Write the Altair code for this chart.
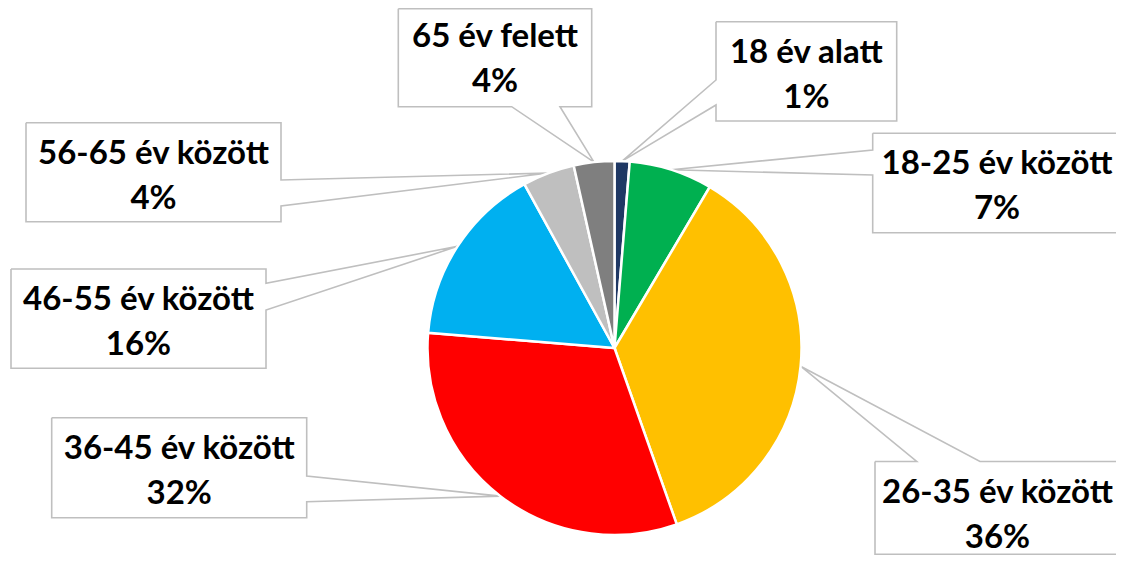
import altair as alt
import numpy as np
import pandas as pd

# ---- data ----
categories = ["18 év alatt", "18-25 év között", "26-35 év között", "36-45 év között",
              "46-55 év között", "56-65 év között", "65 év felett"]
shares = [1.3, 7.2, 36.1, 31.7, 15.7, 4.5, 3.5]
pct_labels = ["1%", "7%", "36%", "32%", "16%", "4%", "4%"]
colors = ["#1F3864", "#00B050", "#FFC000", "#FF0000", "#00B0F0", "#BFBFBF", "#7F7F7F"]

# ---- layout (page pixels) ----
OFF = 8
W, H = 1108, 547
CX, CY, R = 614.5, 348.0, 187.0
TIP_R = 187.0
# box: x0, y0, x1, y1, side of the pointer, base1, base2
boxes = {
    "18 év alatt":     (716.0, 21.7, 896.7, 121.0, "left", 80.0, 105.0),
    "18-25 év között": (872.7, 133.3, 1128.0, 232.7, "left", 150.0, 175.0),
    "26-35 év között": (875.0, 461.5, 1130.0, 554.3, "top", 916.7, 980.0),
    "36-45 év között": (51.7, 417.7, 306.7, 517.7, "right", 476.0, 501.7),
    "46-55 év között": (11.0, 269.0, 266.0, 368.3, "right", 283.3, 310.0),
    "56-65 év között": (26.0, 122.7, 281.0, 221.7, "right", 180.0, 206.0),
    "65 év felett":    (398.3, 8.8, 591.7, 106.7, "bottom", 511.7, 560.0),
}
TOPS = {"65 év felett": 6.0}
TEXT_X = {"18-25 év között": 997.0, "26-35 év között": 997.5}
LINE1, LINE2 = 41.0, 86.0

pie_df = pd.DataFrame({"cat": categories, "share": shares, "idx": range(len(categories))})

# tip points derived from the slice mid-angles
vals = np.array(shares, dtype=float)
cum = np.cumsum(vals)
mid = (cum - vals / 2) / vals.sum() * 2 * np.pi
tips = {c: (CX + TIP_R * np.sin(a), CY - TIP_R * np.cos(a)) for c, a in zip(categories, mid)}

rows = []
for c in categories:
    x0, y0, x1, y1, side, b1, b2 = boxes[c]
    tx, ty = tips[c]
    if side == "top":
        pts = [(x0, y0), (b1, y0), (tx, ty), (b2, y0), (x1, y0), (x1, y1), (x0, y1), (x0, y0)]
    elif side == "right":
        pts = [(x0, y0), (x1, y0), (x1, b1), (tx, ty), (x1, b2), (x1, y1), (x0, y1), (x0, y0)]
    elif side == "bottom":
        pts = [(x0, y0), (x1, y0), (x1, y1), (b2, y1), (tx, ty), (b1, y1), (x0, y1), (x0, y0)]
    else:
        pts = [(x0, y0), (x1, y0), (x1, y1), (x0, y1), (x0, b2), (tx, ty), (x0, b1), (x0, y0)]
    for k, (px, py) in enumerate(pts):
        rows.append({"cat": c, "k": k, "px": px, "py": py})
path_df = pd.DataFrame(rows)

trows = []
for c, p in zip(categories, pct_labels):
    x0, y0, x1, y1, side, b1, b2 = boxes[c]
    top = TOPS.get(c, y0)
    xc = TEXT_X.get(c, (x0 + x1) / 2)
    trows.append({"t": c, "px": xc, "py": top + LINE1})
    trows.append({"t": p, "px": xc, "py": top + LINE2})
text_df = pd.DataFrame(trows)

xs = alt.Scale(domain=[OFF, OFF + W], range=[0, W], nice=False, zero=False)
ys = alt.Scale(domain=[OFF, OFF + H], range=[0, H], nice=False, zero=False)

pie = alt.Chart(pie_df).mark_arc(radius=R, stroke="white", strokeWidth=2.5).encode(
    theta=alt.Theta("share:Q", stack=True),
    order=alt.Order("idx:Q"),
    color=alt.Color("cat:N", scale=alt.Scale(domain=categories, range=colors), legend=None),
    x=alt.value(CX - OFF),
    y=alt.value(CY - OFF),
)

callouts = alt.Chart(path_df).mark_line(color="#BFBFBF", strokeWidth=1.6, strokeJoin="miter").encode(
    x=alt.X("px:Q", scale=xs, axis=None),
    y=alt.Y("py:Q", scale=ys, axis=None),
    detail="cat:N",
    order="k:Q",
)

texts = alt.Chart(text_df).mark_text(
    font="Lato", fontWeight="bold", fontSize=33, color="black",
    align="center", baseline="alphabetic"
).encode(
    x=alt.X("px:Q", scale=xs, axis=None),
    y=alt.Y("py:Q", scale=ys, axis=None),
    text="t:N",
)

chart = alt.layer(callouts, pie, texts).properties(
    width=W, height=H, autosize=alt.AutoSizeParams(type="none"), padding=0
).configure_view(strokeWidth=0)

chart.save("out.html", embed_options={"renderer": "svg", "actions": False})
